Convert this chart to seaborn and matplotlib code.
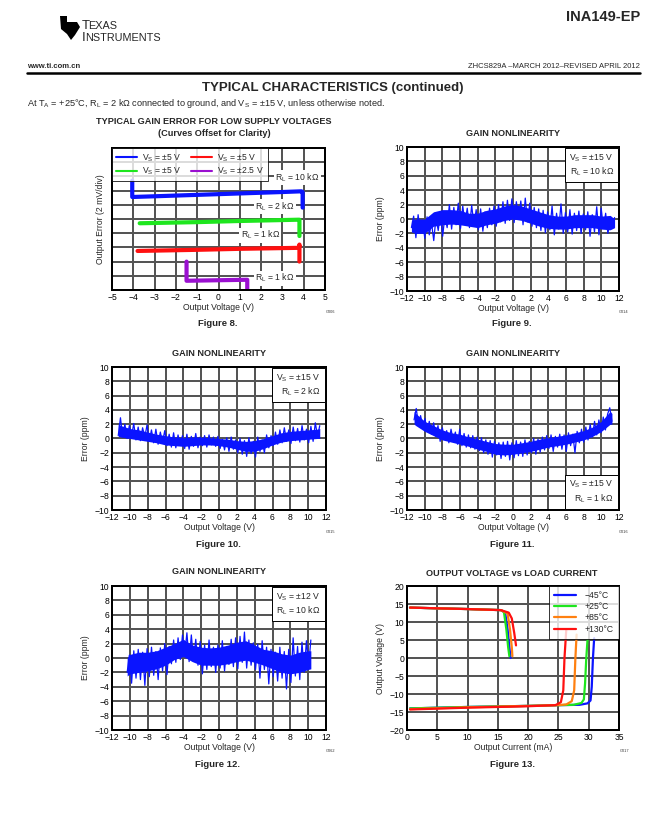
"""
INA149-EP datasheet page: typical characteristics (Figures 8-13).
"""

import matplotlib
matplotlib.use("Agg")
import matplotlib.pyplot as plt
import numpy as np
import seaborn as sns
from matplotlib.patches import Polygon

W, H = 662, 830

# ══════════════════════════════════════════════════════════════
# DATA
# ══════════════════════════════════════════════════════════════

# Figure 8: gain error for low supply voltages (curves offset, 2 mV/div)
fig8_labels = ["V$_\\mathregular{S}$ = ±5 V", "V$_\\mathregular{S}$ = ±5 V",
               "V$_\\mathregular{S}$ = ±5 V", "V$_\\mathregular{S}$ = ±2.5 V"]
fig8_blue_x = [-4.05, -4.05, -3.0, -1.0, 1.0, 3.0, 3.9, 3.95, 3.95]
fig8_blue_y = [7.7, 6.55, 6.6, 6.7, 6.8, 6.9, 6.95, 6.9, 5.8]
fig8_green_x = [-3.7, -1.0, 1.0, 3.75, 3.8, 3.8]
fig8_green_y = [4.7, 4.78, 4.86, 4.95, 4.95, 3.8]
fig8_red_x = [-3.8, -1.0, 1.0, 3.78, 3.8, 3.8]
fig8_red_y = [2.75, 2.83, 2.9, 2.97, 3.2, 2.0]
fig8_purple_x = [-1.5, -1.5, 1.3, 1.35, 1.35]
fig8_purple_y = [2.0, 0.65, 0.72, 0.72, 0.0]

# Figure 9: gain nonlinearity, VS = ±15 V, RL = 10 kΩ
fig9_sweep = (-11.5, 11.5)
fig9_err = [
    -1.2, 0.4, -2.6, 0.6, -1.8, -0.2, -2.7, 0.3, -2.2, -0.5,
    -3.0, 0.2, -1.6, 0.8, -2.4, 0.5, -1.2, 2.0, -1.4, 1.6,
    -0.8, 2.2, -1.3, 1.8, -0.6, 1.5, -1.2, 1.9, -0.9, 1.3,
    -1.5, 1.4, -1.7, 1.0, -1.2, 1.5, -0.8, 1.8, -1.0, 2.0,
    -0.4, 2.4, -0.6, 2.6, -0.2, 2.8, -0.5, 2.4, 0.2, 2.5,
    -0.8, 2.9, -0.4, 2.2, -1.0, 1.6, -1.2, 1.4, -1.6, 1.2,
    -1.9, 1.0, -1.5, 1.8, -2.2, 0.8, -1.4, 2.1, -2.0, 0.9,
    -1.8, 1.3, -2.1, 0.8, -1.6, 1.1, -2.0, 0.7, -1.5, 1.0,
    -2.4, 0.6, -1.8, 1.7, -2.2, 1.5, -1.3, 0.8, -2.0, -0.4,
    -1.0, 0.2,
]
fig9_core_x = [-11.5, -11, -10, -9, -8, -7, -6, -5, -4, -3, -2, -1, 0,
               1, 2, 3, 4, 5, 6, 7, 8, 9, 10, 11, 11.5]
fig9_core_lo = [-1.8, -2.0, -2.0, -1.0, -0.8, -0.7, -0.8, -1.0, -1.2, -0.8, -0.6, -0.2, 0.0,
                -0.2, -0.6, -1.0, -1.3, -1.4, -1.4, -1.2, -1.2, -1.2, -1.4, -1.5, -1.2]
fig9_core_hi = [-0.2, 0.0, 0.0, 1.0, 1.3, 1.3, 1.2, 0.8, 0.8, 1.2, 1.4, 1.8, 2.0,
                1.8, 1.4, 1.0, 0.6, 0.4, 0.4, 0.6, 0.6, 0.6, 0.4, 0.5, 0.0]

# Figure 10: gain nonlinearity, VS = ±15 V, RL = 2 kΩ
fig10_sweep = (-11.3, 11.3)
fig10_err = [
    0.4, 2.9, 0.2, 2.0, 0.0, 1.8, 0.3, 2.1, -0.2, 1.6,
    -0.3, 1.5, 0.2, 1.9, -0.4, 1.2, -0.6, 1.3, -0.8, 0.9,
    -0.5, 1.1, -1.0, 0.6, -1.2, 0.8, -1.3, 0.5, -0.9, 0.4,
    -1.4, 0.6, -1.5, 0.3, -1.1, 0.7, -1.3, 0.2, -1.0, 0.4,
    -1.2, 0.5, -0.9, 0.2, -1.1, 0.3, -1.4, -0.1, -1.6, 0.1,
    -1.8, 0.2, -1.5, -0.2, -2.0, 0.0, -2.2, -0.3, -2.5, 0.1,
    -2.1, -0.4, -2.6, 0.2, -1.8, -0.2, -2.0, 0.5, -1.3, 0.4,
    -1.0, 0.9, -0.8, 1.2, -0.6, 1.5, -0.4, 1.2, -0.7, 1.6,
    -0.3, 1.4, -0.5, 1.8, -0.2, 1.3, -0.6, 1.7, -0.4, 2.2,
    0.3, 1.8,
]
fig10_core_x = [-11.3, -11, -10, -9, -8, -7, -6, -5, -4, -3, -2, -1, 0,
                1, 2, 3, 4, 5, 6, 7, 8, 9, 10, 11, 11.3]
fig10_core_lo = [0.3, 0.2, 0.0, -0.2, -0.4, -0.6, -0.9, -1.0, -1.1, -1.0, -0.9, -0.9, -1.0,
                 -1.2, -1.5, -1.8, -1.8, -1.4, -0.9, -0.5, -0.3, -0.2, -0.1, 0.0, 0.0]
fig10_core_hi = [2.0, 1.8, 1.4, 1.2, 0.9, 0.6, 0.4, 0.2, 0.1, 0.2, 0.2, 0.1, 0.0,
                 -0.1, -0.3, -0.4, -0.3, 0.0, 0.4, 0.8, 1.0, 1.1, 1.2, 1.3, 1.4]

# Figure 11: gain nonlinearity, VS = ±15 V, RL = 1 kΩ
fig11_sweep = (-11.2, 11.2)
fig11_err = [
    2.6, 4.2, 2.0, 3.2, 1.6, 2.8, 1.0, 2.4, 0.6, 2.2,
    0.3, 1.8, -0.4, 1.5, -0.1, 1.1, -0.6, 1.3, -0.3, 0.9,
    -0.8, 1.3, -1.0, 0.7, -1.2, 0.5, -1.3, 0.4, -1.5, 0.2,
    -1.7, 0.1, -2.0, -0.2, -2.2, -0.3, -2.6, -0.4, -2.3, -0.6,
    -2.8, -0.5, -2.5, -0.4, -3.0, -0.6, -2.7, -0.3, -2.4, -0.5,
    -2.5, -0.2, -2.3, -0.4, -2.0, 0.0, -2.2, -0.1, -1.9, 0.2,
    -1.6, 0.4, -1.4, 0.5, -1.8, 0.3, -1.2, 0.6, -1.5, 0.5,
    -1.8, 0.8, -1.0, 0.6, -2.0, 1.0, -0.6, 1.3, -0.5, 1.6,
    -0.2, 2.0, 0.2, 2.4, 0.5, 2.6, 0.8, 3.0, 1.2, 3.4,
    4.3, 2.4,
]
fig11_core_x = [-11.2, -11, -10, -9, -8, -7, -6, -5, -4, -3, -2, -1, 0,
                1, 2, 3, 4, 5, 6, 7, 8, 9, 10, 11, 11.2]
fig11_core_lo = [2.0, 1.8, 1.0, 0.4, -0.2, -0.5, -0.8, -1.1, -1.5, -1.8, -2.2, -2.3, -2.2,
                 -2.0, -1.8, -1.5, -1.2, -1.0, -0.8, -0.5, -0.2, 0.3, 1.0, 2.0, 2.0]
fig11_core_hi = [3.8, 3.5, 2.4, 1.8, 1.2, 0.8, 0.6, 0.2, -0.1, -0.4, -0.7, -0.8, -0.8,
                 -0.6, -0.4, -0.1, 0.1, 0.3, 0.5, 0.8, 1.1, 1.6, 2.4, 3.8, 3.5]

# Figure 12: gain nonlinearity, VS = ±12 V, RL = 10 kΩ
fig12_sweep = (-10.3, 10.3)
fig12_err = [
    -2.0, 0.4, -3.5, 1.0, -2.8, 1.2, -3.0, 0.8, -3.8, 1.3,
    -2.6, 1.5, -2.4, 0.9, -3.0, 1.4, -1.8, 2.0, -2.3, 1.6,
    -0.8, 2.5, -0.6, 2.8, -0.2, 3.2, 0.4, 3.5, -0.5, 3.2,
    -0.4, 2.6, -1.0, 2.3, -2.2, 1.8, -1.6, 2.5, -1.2, 1.5,
    -2.0, 1.8, -1.4, 2.4, -1.8, 1.6, -0.9, 2.6, -1.2, 2.8,
    -1.5, 3.0, -0.6, 3.6, -1.4, 2.5, -1.0, 2.1, -1.6, 1.9,
    -2.8, 2.4, -1.6, 1.5, -3.6, 1.2, -2.6, 0.8, -3.2, 1.5,
    -2.8, 0.9, -4.3, 1.2, -3.4, 2.8, -2.5, 1.6, -3.0, 2.2,
    -2.0, 2.4, -1.2, 2.5,
]
fig12_core_x = [-10.3, -10, -9, -8, -7, -6, -5, -4, -3, -2, -1, 0,
                1, 2, 3, 4, 5, 6, 7, 8, 9, 10, 10.3]
fig12_core_lo = [-2.5, -2.2, -2.0, -1.8, -1.5, -1.0, -0.2, 0.2, -0.5, -1.0, -1.0, -1.0,
                 -0.8, -0.5, -0.3, -0.6, -1.0, -1.5, -2.0, -2.2, -2.0, -1.6, -1.5]
fig12_core_hi = [0.0, 0.5, 0.8, 0.8, 1.0, 1.5, 2.0, 2.6, 1.8, 1.5, 1.4, 1.5,
                 1.8, 2.2, 2.4, 1.8, 1.2, 1.0, 0.6, 0.4, 0.8, 1.0, 1.0]

# Figure 13: output voltage vs load current
temp_labels = ["−45°C", "+25°C", "+85°C", "+130°C"]
hi_x = [
    [0.5, 5, 10, 15.5, 16.2, 16.6, 16.9, 17.1],
    [0.5, 5, 10, 15.5, 16.0, 16.4, 16.7, 16.9],
    [0.5, 5, 10, 15.5, 16.6, 17.0, 17.3, 17.4],
    [0.5, 5, 10, 15.5, 16.8, 17.3, 17.7, 18.0],
]
hi_y = [
    [14.0, 13.8, 13.6, 13.3, 12.6, 8.0, 3.0, 0.0],
    [14.0, 13.8, 13.6, 13.3, 12.8, 8.0, 3.0, 0.5],
    [14.0, 13.8, 13.6, 13.3, 12.4, 8.0, 3.0, 0.5],
    [14.0, 13.8, 13.6, 13.3, 12.6, 11.0, 7.0, 3.5],
]
lo_x = [
    [0.5, 10, 20, 25, 28.5, 29.8, 30.3, 30.5, 30.7, 30.9],
    [0.5, 10, 20, 25, 27.5, 28.8, 29.2, 29.4, 29.6, 29.8],
    [0.5, 10, 20, 25, 26.3, 27.2, 27.6, 27.8, 28.0],
    [0.5, 10, 20, 24.5, 25.4, 25.8, 26.0, 26.3],
]
lo_y = [
    [-14.0, -13.6, -13.3, -13.1, -13.0, -12.6, -11.8, -8.0, 0.0, 5.5],
    [-14.0, -13.6, -13.3, -13.1, -13.0, -12.5, -11.5, -7.0, 0.0, 5.0],
    [-14.2, -13.7, -13.3, -13.1, -12.9, -12.0, -9.0, 0.0, 6.5],
    [-14.3, -13.8, -13.4, -13.1, -12.3, -9.0, 0.0, 8.0],
]

BLUE = "#0a14ff"
GREEN = "#1ee61e"
RED = "#ff1010"
PURPLE = "#9a10d0"
ORANGE = "#ff8010"
TEMP_COLORS = [BLUE, GREEN, ORANGE, RED]

# ══════════════════════════════════════════════════════════════
# STYLE
# ══════════════════════════════════════════════════════════════

sns.set_theme(style="white")
plt.rcParams["font.family"] = ["Liberation Sans", "DejaVu Sans"]
plt.rcParams["mathtext.fontset"] = "custom"
plt.rcParams["mathtext.rm"] = "Liberation Sans"
plt.rcParams["axes.unicode_minus"] = True

TICK_FS = 6.2
LABEL_FS = 6.2
TITLE_FS = 6.6
GRID_C = "#555555"
GRID_LW = 1.44  # 2 px at 100 dpi

fig = plt.figure(figsize=(W / 100, H / 100), dpi=100)
fig.patch.set_facecolor("white")


def px(x, y):
    return x / W, 1 - y / H


def add_ax(l, t, r, b):
    return fig.add_axes([l / W, 1 - b / H, (r - l) / W, (b - t) / H])


def style_ax(ax, xlim, xticks, ylim, yticks, xlabel, ylabel, show_y=True):
    xticks, yticks = list(xticks), list(yticks)
    ax.set_xlim(*xlim)
    ax.set_ylim(*ylim)
    ax.set_xticks(xticks)
    ax.set_yticks(yticks)
    if not show_y:
        ax.set_yticklabels([])
    ax.grid(False)
    for v in xticks[1:-1]:
        ax.axvline(v, color=GRID_C, lw=GRID_LW, zorder=0.5, antialiased=False)
    for v in yticks[1:-1]:
        ax.axhline(v, color=GRID_C, lw=GRID_LW, zorder=0.5, antialiased=False)
    for s in ax.spines.values():
        s.set_color("black")
        s.set_linewidth(GRID_LW)
        s.set_antialiased(False)
    ax.tick_params(length=0, pad=2, labelsize=TICK_FS, colors="black")
    ax.set_xlabel(xlabel, fontsize=LABEL_FS, labelpad=1)
    ax.set_ylabel(ylabel, fontsize=LABEL_FS, labelpad=3)


def cond_box(ax, text, loc="top"):
    y, va = (0.965, "top") if loc == "top" else (0.035, "bottom")
    ax.text(0.975, y, text, transform=ax.transAxes, ha="right", va=va,
            fontsize=6.2, linespacing=1.25, zorder=5,
            bbox=dict(boxstyle="square,pad=0.45", fc="white", ec="black", lw=0.7))


def noisy(ax, sweep, err, core_x, core_lo, core_hi):
    ax.fill_between(core_x, core_lo, core_hi, color=BLUE, lw=0, zorder=2)
    v = np.linspace(sweep[0], sweep[1], len(err))
    sns.lineplot(x=v, y=err, color=BLUE, lw=0.9, sort=False, estimator=None, ax=ax)


# ══════════════════════════════════════════════════════════════
# HEADER
# ══════════════════════════════════════════════════════════════

logo = [(60, 16), (67, 16), (67, 22), (77, 22), (80, 27), (75, 35),
        (71, 40), (67, 34), (61, 29)]
fig.patches.append(Polygon([px(*p) for p in logo], closed=True, fc="black",
                           ec="none", transform=fig.transFigure, figure=fig))
fig.text(*px(82, 29), "T", fontsize=9.5, va="baseline")
fig.text(*px(88.5, 29), "EXAS", fontsize=7.8, va="baseline")
fig.text(*px(82, 41), "I", fontsize=9.5, va="baseline")
fig.text(*px(85.5, 41), "NSTRUMENTS", fontsize=7.8, va="baseline")
fig.text(*px(640, 17), "INA149-EP", fontsize=10.5, fontweight="bold",
         ha="right", va="center")
fig.text(*px(27, 67), "www.ti.com.cn", fontsize=5.5, fontweight="bold", va="center")
fig.text(*px(640, 67), "ZHCS829A –MARCH 2012–REVISED APRIL 2012", fontsize=5.5,
         ha="right", va="center")
fig.add_artist(plt.Line2D([27 / W, 640 / W], [1 - 73 / H] * 2, color="black",
                          lw=1.8, transform=fig.transFigure))
fig.text(*px(333, 88), "TYPICAL CHARACTERISTICS (continued)", fontsize=9.5,
         fontweight="bold", ha="center", va="center")
fig.text(*px(27, 103),
         "At T$_\\mathregular{A}$ = +25°C, R$_\\mathregular{L}$ = 2 kΩ connected to ground, "
         "and V$_\\mathregular{S}$ = ±15 V, unless otherwise noted.",
         fontsize=6.6, va="center")

# ══════════════════════════════════════════════════════════════
# FIGURE 8
# ══════════════════════════════════════════════════════════════

ax8 = add_ax(112, 148, 325, 290)
style_ax(ax8, (-5, 5), range(-5, 6), (0, 10), range(0, 11),
         "Output Voltage (V)", "Output Error (2 mV/div)", show_y=False)
for xs, ys, c, lab in [(fig8_blue_x, fig8_blue_y, BLUE, fig8_labels[0]),
                       (fig8_green_x, fig8_green_y, GREEN, fig8_labels[1]),
                       (fig8_red_x, fig8_red_y, RED, fig8_labels[2]),
                       (fig8_purple_x, fig8_purple_y, PURPLE, fig8_labels[3])]:
    sns.lineplot(x=xs, y=ys, color=c, lw=3, sort=False, estimator=None,
                 label=lab, ax=ax8)
leg = ax8.legend(loc="upper left", ncol=2, fontsize=6.2, frameon=True, fancybox=False,
                 borderaxespad=0, handlelength=2.4, columnspacing=1.1,
                 borderpad=0.5, labelspacing=0.2, handletextpad=0.6)
leg.get_frame().set_edgecolor("black")
leg.get_frame().set_linewidth(0.7)
leg.set_zorder(6)
for line in leg.get_lines():
    line.set_linewidth(1.5)
rl_box = dict(boxstyle="square,pad=0.15", fc="white", ec="none")
for x, y, t in [(3.7, 7.9, "R$_\\mathregular{L}$ = 10 kΩ"),
                (2.63, 5.85, "R$_\\mathregular{L}$ = 2 kΩ"),
                (1.97, 3.87, "R$_\\mathregular{L}$ = 1 kΩ"),
                (2.63, 0.84, "R$_\\mathregular{L}$ = 1 kΩ")]:
    ax8.text(x, y, t, fontsize=6.2, ha="center", va="center", bbox=rl_box, zorder=4)
fig.text(*px(214, 121), "TYPICAL GAIN ERROR FOR LOW SUPPLY VOLTAGES",
         fontsize=TITLE_FS, fontweight="bold", ha="center", va="center")
fig.text(*px(214, 133), "(Curves Offset for Clarity)",
         fontsize=TITLE_FS, fontweight="bold", ha="center", va="center")

# ══════════════════════════════════════════════════════════════
# FIGURES 9-12
# ══════════════════════════════════════════════════════════════

gn_panels = [
    ((407, 147, 619, 291), fig9_sweep, fig9_err, fig9_core_x, fig9_core_lo, fig9_core_hi,
     "V$_\\mathregular{S}$ = ±15 V\nR$_\\mathregular{L}$ = 10 kΩ", "top"),
    ((112, 367, 326, 510), fig10_sweep, fig10_err, fig10_core_x, fig10_core_lo, fig10_core_hi,
     "V$_\\mathregular{S}$ = ±15 V\nR$_\\mathregular{L}$ = 2 kΩ", "top"),
    ((407, 367, 619, 510), fig11_sweep, fig11_err, fig11_core_x, fig11_core_lo, fig11_core_hi,
     "V$_\\mathregular{S}$ = ±15 V\nR$_\\mathregular{L}$ = 1 kΩ", "bottom"),
    ((112, 586, 326, 730), fig12_sweep, fig12_err, fig12_core_x, fig12_core_lo, fig12_core_hi,
     "V$_\\mathregular{S}$ = ±12 V\nR$_\\mathregular{L}$ = 10 kΩ", "top"),
]
for (l, t, r, b), sweep, err, cx, clo, chi, cond, loc in gn_panels:
    ax = add_ax(l, t, r, b)
    style_ax(ax, (-12, 12), range(-12, 13, 2), (-10, 10), range(-10, 11, 2),
             "Output Voltage (V)", "Error (ppm)")
    noisy(ax, sweep, err, cx, clo, chi)
    cond_box(ax, cond, loc)
    fig.text(*px((l + r) / 2, t - 14), "GAIN NONLINEARITY", fontsize=TITLE_FS,
             fontweight="bold", ha="center", va="center")

# ══════════════════════════════════════════════════════════════
# FIGURE 13
# ══════════════════════════════════════════════════════════════

ax13 = add_ax(407, 586, 619, 730)
style_ax(ax13, (0, 35), range(0, 36, 5), (-20, 20), range(-20, 21, 5),
         "Output Current (mA)", "Output Voltage (V)")
for i, c in enumerate(TEMP_COLORS):
    sns.lineplot(x=hi_x[i], y=hi_y[i], color=c, lw=1.6, sort=False,
                 estimator=None, label=temp_labels[i], ax=ax13)
    sns.lineplot(x=lo_x[i], y=lo_y[i], color=c, lw=1.6, sort=False,
                 estimator=None, ax=ax13)
leg = ax13.legend(loc="upper right", fontsize=6.2, frameon=True, fancybox=False,
                  borderaxespad=0, handlelength=2.6, borderpad=0.6,
                  labelspacing=0.25, handletextpad=1.0)
leg.get_frame().set_edgecolor("black")
leg.get_frame().set_linewidth(0.7)
leg.set_zorder(6)
fig.text(*px(512, 573), "OUTPUT VOLTAGE vs LOAD CURRENT", fontsize=TITLE_FS,
         fontweight="bold", ha="center", va="center")

# ══════════════════════════════════════════════════════════════
# FIGURE CAPTIONS / CODES
# ══════════════════════════════════════════════════════════════

for x, y, t in [(218, 323, "Figure 8."), (512, 323, "Figure 9."),
                (218, 544, "Figure 10."), (512, 544, "Figure 11."),
                (218, 764, "Figure 12."), (512, 764, "Figure 13.")]:
    fig.text(*px(x, y), t, fontsize=6.8, fontweight="bold", ha="center", va="center")

for x, y, t in [(330, 312, "G006"), (624, 312, "G014"), (330, 532, "G015"),
                (624, 532, "G016"), (330, 751, "G062"), (624, 751, "G017")]:
    fig.text(*px(x, y), t, fontsize=2.8, ha="center", va="center", color="#333333")

fig.savefig("out.png", dpi=100)
plt.close(fig)
